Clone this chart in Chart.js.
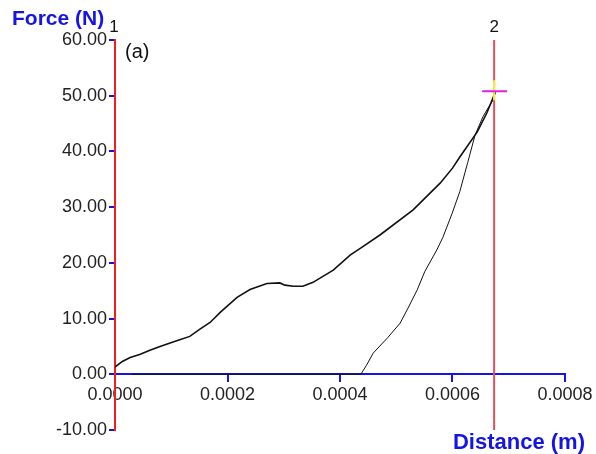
<!doctype html>
<html>
<head>
<meta charset="UTF-8" />
<script src="https://cdn.jsdelivr.net/npm/chart.js"></script>
<style>
  html, body { margin: 0; padding: 0; background: #fff; }
</style>
</head>
<body>
<canvas id="forceChart" width="596" height="454"></canvas>
<script>
// loading branch (distance m, force N)
const loadX = [0, 0.000013, 0.000027, 0.000045, 0.000062, 0.00008, 0.000098, 0.000115, 0.000133,
  0.000151, 0.000169, 0.000187, 0.000217, 0.00024, 0.00027, 0.000293, 0.000302, 0.000317,
  0.000334, 0.000352, 0.000388, 0.000418, 0.000436, 0.000471, 0.00053, 0.000578, 0.0006,
  0.000613, 0.000644, 0.000661, 0.000676];
const loadF = [1.3, 2.3, 3.0, 3.6, 4.3, 5.0, 5.6, 6.2, 6.8,
  8.1, 9.3, 11.1, 13.8, 15.2, 16.3, 16.4, 16.0, 15.8,
  15.8, 16.5, 18.7, 21.4, 22.6, 25.0, 29.5, 34.3, 37.0,
  39.0, 43.5, 46.9, 50.6];
// unloading branch
const unloadX = [0.000676, 0.000672, 0.000662, 0.000654, 0.00064, 0.000627, 0.000613, 0.000599,
  0.000583, 0.000572, 0.000551, 0.000537, 0.00052, 0.000507, 0.000485, 0.000459, 0.000447,
  0.000437, 0.00003];
const unloadF = [50.6, 49.2, 47.6, 46.2, 42.9, 38.0, 32.8, 28.8,
  24.6, 22.3, 18.5, 15.1, 11.7, 9.2, 6.6, 3.8, 1.6,
  0, 0];

const xTicks = [0, 0.0002, 0.0004, 0.0006, 0.0008];
const yTicks = [-10, 0, 10, 20, 30, 40, 50, 60];
const cursorX = 0.000674;
const cursorF = 50.8;

const BLUE = '#1414e6';
const RED = '#f02020';
const CURSOR_RED = '#e4505a';

const toPts = (xs, ys) => xs.map((x, i) => ({ x: x, y: ys[i] }));

const overlay = {
  id: 'overlay',
  afterDatasetsDraw(chart) {
    const ctx = chart.ctx;
    const xs = chart.scales.x, ys = chart.scales.y;
    const px = xs.getPixelForValue(cursorX);
    const py = ys.getPixelForValue(cursorF);
    ctx.save();
    // cursor 2
    ctx.strokeStyle = CURSOR_RED;
    ctx.lineWidth = 2;
    ctx.beginPath();
    ctx.moveTo(px, ys.getPixelForValue(60));
    ctx.lineTo(px, ys.getPixelForValue(-10));
    ctx.stroke();
    ctx.strokeStyle = '#f4f040';
    ctx.beginPath();
    ctx.moveTo(px, py - 11);
    ctx.lineTo(px, py + 9);
    ctx.stroke();
    ctx.strokeStyle = '#e020e0';
    ctx.beginPath();
    ctx.moveTo(px - 12, py);
    ctx.lineTo(px + 13, py);
    ctx.stroke();

    // texts
    ctx.fillStyle = BLUE;
    ctx.font = 'bold 21px "Liberation Sans", Arial, sans-serif';
    ctx.textAlign = 'left';
    ctx.textBaseline = 'alphabetic';
    ctx.fillText('Force (N)', 12, 25);
    ctx.textAlign = 'right';
    ctx.font = 'bold 22px "Liberation Sans", Arial, sans-serif';
    ctx.fillText('Distance (m)', 585, 449);

    ctx.fillStyle = '#111';
    ctx.font = '17px "Liberation Sans", Arial, sans-serif';
    ctx.textAlign = 'center';
    ctx.fillText('1', xs.getPixelForValue(0) - 1, 32);
    ctx.fillText('2', px, 32);
    ctx.textAlign = 'left';
    ctx.font = '20px "Liberation Sans", Arial, sans-serif';
    ctx.fillText('(a)', 125, 58);
    ctx.restore();
  }
};

new Chart(document.getElementById('forceChart'), {
  type: 'scatter',
  data: {
    datasets: [
      { data: toPts(loadX, loadF), showLine: true, borderColor: '#111', borderWidth: 1.6, pointRadius: 0, tension: 0 },
      { data: toPts(unloadX, unloadF), showLine: true, borderColor: '#111', borderWidth: 1, pointRadius: 0, tension: 0 }
    ]
  },
  options: {
    responsive: false,
    animation: false,
    events: [],
    layout: { padding: { left: 0, top: 40, right: 31, bottom: 24 } },
    plugins: { legend: { display: false }, tooltip: { enabled: false } },
    scales: {
      x: {
        type: 'linear',
        position: { y: 0 },
        min: 0, max: 0.0008,
        afterBuildTicks: s => { s.ticks = xTicks.map(v => ({ value: v })); },
        ticks: {
          color: '#222', padding: 3,
          font: { family: '"Liberation Sans", Arial, sans-serif', size: 18 },
          callback: v => Number(v).toFixed(4),
          maxRotation: 0, autoSkip: false
        },
        grid: { drawOnChartArea: false, drawTicks: true, tickLength: 7, color: BLUE, lineWidth: 2 },
        border: { color: BLUE, width: 2 }
      },
      y: {
        type: 'linear',
        position: 'left',
        min: -10, max: 60,
        afterFit: s => { s.width = 115; },
        afterBuildTicks: s => { s.ticks = yTicks.map(v => ({ value: v })); },
        ticks: {
          color: '#222', padding: 2,
          font: { family: '"Liberation Sans", Arial, sans-serif', size: 18 },
          callback: v => Number(v).toFixed(2)
        },
        grid: { drawOnChartArea: false, drawTicks: true, tickLength: 6, color: BLUE, lineWidth: 2 },
        border: { color: RED, width: 2 }
      }
    }
  },
  plugins: [overlay]
});
</script>
</body>
</html>
